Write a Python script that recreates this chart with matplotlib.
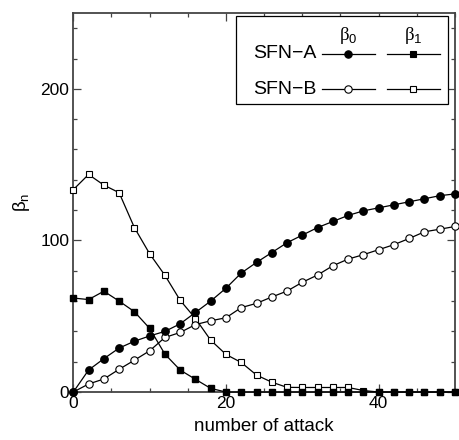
import matplotlib
matplotlib.use("Agg")
import matplotlib.pyplot as plt
from matplotlib.patches import Rectangle
from matplotlib.lines import Line2D
from matplotlib.ticker import MultipleLocator

plt.rcParams['font.family'] = ['Liberation Sans', 'DejaVu Sans']
plt.rcParams['mathtext.fontset'] = 'custom'
plt.rcParams['mathtext.rm'] = 'Liberation Sans'

# number of attack (every second step)
attacks = list(range(0, 51, 2))

# beta_0 / beta_1 values
sfn_a_b0 = [0, 14.5, 22, 29, 33.5, 37, 40, 45, 52.5, 60, 68.5, 78.5, 85.5,
            92, 98.5, 103.5, 108.5, 112.5, 116.5, 119.5, 121.5, 123.5, 125.5,
            127.5, 129.5, 130.7]
sfn_b_b0 = [0, 5.3, 8.6, 15, 21, 27.2, 36, 39.3, 44.5, 47, 49, 55.7, 58.5,
            62.7, 66.6, 72.4, 77.2, 83.3, 87.7, 90.6, 93.9, 97.2, 101.3,
            105.7, 107.4, 109.2]
sfn_a_b1 = [62, 61, 66.5, 60, 53, 42, 25, 14.5, 8.4, 2.4, 0, 0, 0, 0, 0, 0,
            0, 0, 0, 0, 0, 0, 0, 0, 0, 0]
sfn_b_b1 = [133.5, 143.5, 136.5, 131.5, 108.5, 91.2, 77, 60.5, 48.5, 34.2,
            24.8, 19.5, 11.2, 6.5, 3.1, 3, 3, 3, 3, 1, 0, 0, 0, 0, 0, 0]

fig = plt.figure(figsize=(4.59, 4.4), dpi=100)
ax = fig.add_axes([0.1597, 0.109, 0.8316, 0.8614])

lw = 0.9
ms_c, ms_s = 5.3, 4.8
ax.plot(attacks, sfn_b_b1, color='black', lw=lw, marker='s', ms=ms_s,
        mfc='white', mec='black', mew=0.8, clip_on=False, zorder=3)
ax.plot(attacks, sfn_b_b0, color='black', lw=lw, marker='o', ms=ms_c,
        mfc='white', mec='black', mew=0.8, clip_on=False, zorder=3)
ax.plot(attacks, sfn_a_b1, color='black', lw=lw, marker='s', ms=ms_s,
        mfc='black', mec='black', clip_on=False, zorder=4)
ax.plot(attacks, sfn_a_b0, color='black', lw=lw, marker='o', ms=ms_c,
        mfc='black', mec='black', clip_on=False, zorder=4)

ax.set_xlim(0, 50)
ax.set_ylim(0, 250)
ax.xaxis.set_major_locator(MultipleLocator(20))
ax.xaxis.set_minor_locator(MultipleLocator(5))
ax.yaxis.set_major_locator(MultipleLocator(100))
ax.yaxis.set_minor_locator(MultipleLocator(20))
ax.tick_params(which='both', direction='in', top=True, right=True,
               labelsize=12.5, width=0.9, color='#444444', pad=3)
ax.tick_params(which='major', length=6)
ax.tick_params(which='minor', length=3)
for s in ax.spines.values():
    s.set_linewidth(1.3)
    s.set_color('#444444')

ax.set_xlabel('number of attack', fontsize=13.5, labelpad=5)
ax.set_ylabel('β$_\\mathregular{n}$', fontsize=13.5, labelpad=6)

# legend drawn by hand: labels left of the lines, beta headers on top
tr = ax.transAxes
ax.add_patch(Rectangle((0.426, 0.760), 0.556, 0.232, transform=tr,
                       fill=True, fc='white', ec='black', lw=0.9, zorder=5))
ax.text(0.720, 0.942, 'β$_0$', transform=tr, ha='center', va='center',
        fontsize=13.5, family='Liberation Serif', zorder=6)
ax.text(0.890, 0.942, 'β$_1$', transform=tr, ha='center', va='center',
        fontsize=13.5, family='Liberation Serif', zorder=6)
rows = [(0.892, 'SFN−A', 'black'), (0.799, 'SFN−B', 'white')]
for y, name, fc in rows:
    ax.text(0.637, y, name, transform=tr, ha='right', va='center',
            fontsize=14, zorder=6)
    ax.add_line(Line2D([0.652, 0.790], [y, y], transform=tr, color='black',
                       lw=lw, zorder=6))
    ax.add_line(Line2D([0.720], [y], transform=tr, marker='o', ms=ms_c,
                       mfc=fc, mec='black', mew=0.8, ls='none', zorder=7))
    ax.add_line(Line2D([0.822, 0.961], [y, y], transform=tr, color='black',
                       lw=lw, zorder=6))
    ax.add_line(Line2D([0.890], [y], transform=tr, marker='s', ms=ms_s,
                       mfc=fc, mec='black', mew=0.8, ls='none', zorder=7))

fig.savefig('out.png', dpi=100)
